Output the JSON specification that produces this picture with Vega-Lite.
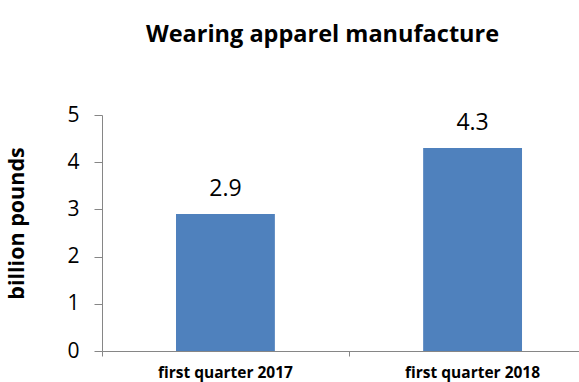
{
  "$schema": "https://vega.github.io/schema/vega-lite/v6.json",
  "autosize": "none",
  "width": 477,
  "height": 236,
  "padding": {"left": 102, "top": 115, "right": 0, "bottom": 31},
  "background": "white",
  "title": {
    "text": "Wearing apparel manufacture",
    "font": "Open Sans",
    "fontSize": 23.5,
    "fontWeight": "bold",
    "color": "#000000",
    "anchor": "middle",
    "frame": "group",
    "dx": -18,
    "offset": 58
  },
  "config": {
    "view": {"stroke": null},
    "font": "Open Sans"
  },
  "data": {
    "values": [
      {"period": "first quarter 2017", "value": 2.9},
      {"period": "first quarter 2018", "value": 4.3}
    ]
  },
  "encoding": {
    "x": {
      "field": "period",
      "type": "nominal",
      "sort": null,
      "scale": {"paddingInner": 0.6, "paddingOuter": 0.265, "align": 0.565},
      "axis": {
        "title": null,
        "labelAngle": 0,
        "labelFont": "Open Sans",
        "labelFontSize": 15.5,
        "labelFontWeight": "bold",
        "labelColor": "#000000",
        "labelPadding": 9,
        "domainColor": "#868686",
        "tickColor": "#868686",
        "tickSize": 5,
        "bandPosition": -0.747,
        "grid": false
      }
    },
    "y": {
      "field": "value",
      "type": "quantitative",
      "scale": {"domain": [0, 5], "nice": false},
      "axis": {
        "values": [0, 1, 2, 3, 4, 5],
        "title": "billion pounds",
        "titleFont": "Open Sans",
        "titleFontSize": 21.5,
        "titleFontWeight": "bold",
        "titleColor": "#000000",
        "titlePadding": 38,
        "titleY": 108,
        "labelFont": "Open Sans",
        "labelFontSize": 21,
        "labelColor": "#000000",
        "labelPadding": 15,
        "domainColor": "#868686",
        "tickColor": "#868686",
        "tickSize": 8,
        "grid": false
      }
    }
  },
  "layer": [
    {"mark": {"type": "bar", "color": "#4F81BD"}},
    {
      "mark": {"type": "text", "font": "Open Sans", "fontSize": 23, "color": "#000000", "baseline": "alphabetic", "dy": -18},
      "encoding": {"text": {"field": "value", "type": "quantitative", "format": ".1f"}}
    }
  ]
}
